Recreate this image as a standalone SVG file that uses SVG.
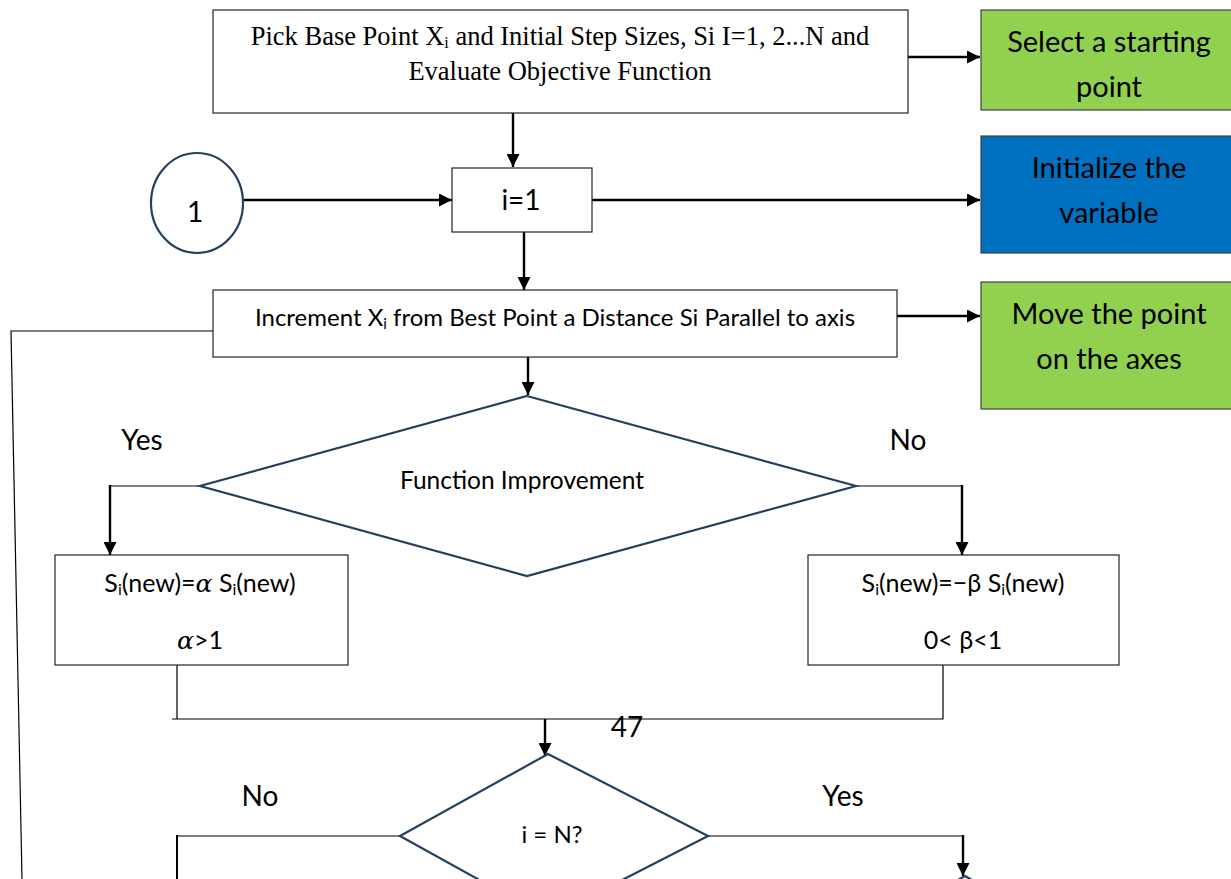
<svg xmlns="http://www.w3.org/2000/svg" width="1231" height="879" viewBox="0 0 1231 879">
<defs>
<marker id="ah" viewBox="0 0 10 10" refX="10" refY="5" markerWidth="15" markerHeight="13" markerUnits="userSpaceOnUse" orient="auto"><path d="M0,0 L10,5 L0,10 z" fill="#000"/></marker>
<style>
.box{fill:#fff;stroke:#222;stroke-width:1.2}
.dia{fill:#fff;stroke:#243f60;stroke-width:2.2}
.note{stroke:#404040;stroke-width:1.2}
.arr{fill:none;stroke:#000;stroke-width:2.4;marker-end:url(#ah)}
.ln{fill:none;stroke:#000;stroke-width:1.2}
.ln2{fill:none;stroke:#000;stroke-width:2}
.t{font-family:Lato,"Open Sans","Noto Sans",sans-serif;fill:#000;text-anchor:middle}
.tr{font-family:"Liberation Serif","Times New Roman",serif;fill:#000;text-anchor:middle}
.m{font-family:"DejaVu Serif","Liberation Serif",serif;font-style:italic}
</style>
</defs>
<rect width="1231" height="879" fill="#fff"/>
<g id="connectors">
<path class="arr" d="M908,57 H980"/>
<path class="arr" d="M513,113 V167"/>
<path class="arr" d="M244,200 H452"/>
<path class="arr" d="M592,200 H980"/>
<path class="arr" d="M524,232 V290"/>
<path class="arr" d="M897,316 H980"/>
<path class="ln" d="M213,331 H11 L22,879"/>
<path class="arr" d="M528,357 V395"/>
<path class="ln" d="M200,486 H110"/>
<path class="arr" d="M110,485 V555"/>
<path class="ln" d="M856,486 H962"/>
<path class="arr" d="M962,485 V555"/>
<path class="ln" d="M177,665 V719 M172,719 H943 V665"/>
<path class="arr" d="M545,719 V756"/>
<path class="ln" d="M400,836 H177"/>
<path class="ln2" d="M177,835 V879"/>
<path class="ln" d="M708,836 H963"/>
<path class="arr" d="M963,835 V876"/>
</g>
<g id="start">
<rect class="box" x="213" y="10" width="695" height="103"/>
<text class="tr" x="560" y="45" font-size="26.5">Pick Base Point X<tspan font-size="16" dy="3">i</tspan><tspan dy="-3"> and Initial Step Sizes, Si I=1, 2...N and</tspan></text>
<text class="tr" x="560" y="80" font-size="26.5">Evaluate Objective Function</text>
</g>
<g id="note1">
<rect class="note" x="981" y="10" width="252" height="100" fill="#92d050"/>
<text class="t" x="1109" y="52" font-size="29">Select a starting</text>
<text class="t" x="1109" y="97" font-size="29">point</text>
</g>
<g id="connector1">
<ellipse cx="197" cy="203" rx="46" ry="50" fill="#fff" stroke="#243f60" stroke-width="2.2"/>
<text class="t" x="195" y="222" font-size="28">1</text>
</g>
<g id="init">
<rect class="box" x="452" y="168" width="140" height="64"/>
<text class="t" x="521" y="210" font-size="28">i=1</text>
</g>
<g id="note2">
<rect class="note" x="981" y="136" width="252" height="117" fill="#0070c0"/>
<text class="t" x="1109" y="178" font-size="29">Initialize the</text>
<text class="t" x="1109" y="223" font-size="29">variable</text>
</g>
<g id="increment">
<rect class="box" x="213" y="290" width="684" height="67"/>
<text class="t" x="555" y="326" font-size="24">Increment X<tspan font-size="15" dy="3">i</tspan><tspan dy="-3"> from Best Point a Distance Si Parallel to axis</tspan></text>
</g>
<g id="note3">
<rect class="note" x="981" y="282" width="252" height="127" fill="#92d050"/>
<text class="t" x="1109" y="324" font-size="29">Move the point</text>
<text class="t" x="1109" y="369" font-size="29">on the axes</text>
</g>
<g id="decision1">
<polygon class="dia" points="527,396 856,486 527,576 200,486"/>
<text class="t" x="522" y="489" font-size="24.5">Function Improvement</text>
</g>
<g id="labels">
<text class="t" x="142" y="450" font-size="28">Yes</text>
<text class="t" x="908" y="450" font-size="28">No</text>
<text class="t" x="627" y="737" font-size="28">47</text>
<text class="t" x="260" y="806" font-size="28">No</text>
<text class="t" x="843" y="806" font-size="28">Yes</text>
</g>
<g id="expand">
<rect class="box" x="55" y="555" width="293" height="110"/>
<text class="t" x="200" y="592" font-size="25">S<tspan font-size="16" dy="3">i</tspan><tspan dy="-3">(new)=</tspan><tspan class="m">α</tspan> S<tspan font-size="16" dy="3">i</tspan><tspan dy="-3">(new)</tspan></text>
<text class="t" x="200" y="649" font-size="25"><tspan class="m">α</tspan>&gt;1</text>
</g>
<g id="contract">
<rect class="box" x="808" y="555" width="311" height="110"/>
<text class="t" x="963" y="592" font-size="25">S<tspan font-size="16" dy="3">i</tspan><tspan dy="-3">(new)=−β S</tspan><tspan font-size="16" dy="3">i</tspan><tspan dy="-3">(new)</tspan></text>
<text class="t" x="963" y="649" font-size="25">0&lt; β&lt;1</text>
</g>
<g id="decision2">
<polygon class="dia" points="548,754 708,836 548,918 400,836"/>
<text class="t" x="552" y="843" font-size="24">i = N?</text>
</g>
<g id="next">
<polygon class="dia" points="965,876 990,890 965,904 940,890"/>
</g>
</svg>
